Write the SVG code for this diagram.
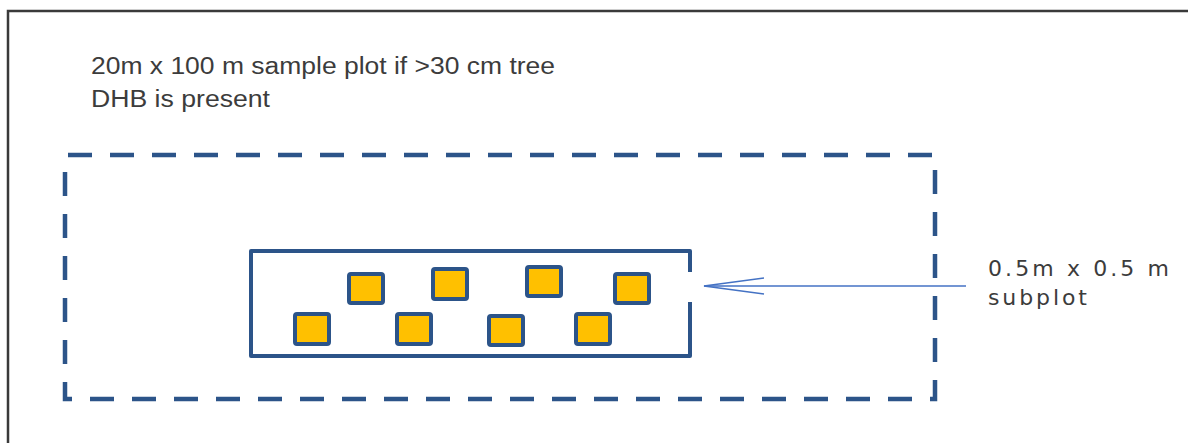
<svg xmlns="http://www.w3.org/2000/svg" width="1188" height="443" viewBox="0 0 1188 443">
  <style>
    .frame { fill: none; stroke: #3a3a3a; stroke-width: 2.5; }
    .plot { fill: none; stroke: #2c5489; stroke-width: 4.5; stroke-dasharray: 24 18; }
    .band { fill: none; stroke: #2c5489; stroke-width: 4; stroke-linejoin: round; }
    .sub { fill: #ffc000; stroke: #2c5489; stroke-width: 4; }
    .label { font-family: "Liberation Sans", Arial, sans-serif; font-size: 23px; fill: #3c3c3c; }
    .side { font-family: "DejaVu Sans", "Liberation Sans", sans-serif; font-size: 22px; fill: #3c3c3c; }
    .pointer { fill: none; stroke: #4472c4; stroke-width: 1.6; }
  </style>
  <defs>
    <marker id="openHead" markerUnits="userSpaceOnUse" markerWidth="64" markerHeight="24" refX="62" refY="12" orient="auto" viewBox="0 0 64 24">
      <path d="M2,4 L62,12 L2,20" fill="none" stroke="#4472c4" stroke-width="1.6"/>
    </marker>
  </defs>

  <rect width="1188" height="443" fill="#ffffff"/>

  <!-- page frame (open on the right and bottom) -->
  <path class="frame" d="M8,443 V11 H1188"/>

  <g id="title">
    <text class="label" x="91" y="74" textLength="464" lengthAdjust="spacingAndGlyphs">20m x 100 m sample plot if &gt;30 cm tree</text>
    <text class="label" x="91" y="107" textLength="179" lengthAdjust="spacingAndGlyphs">DHB is present</text>
  </g>

  <g id="sample-plot">
    <rect class="plot" x="65" y="155" width="870" height="244" stroke-dashoffset="-3"/>
  </g>

  <g id="subplot-band">
    <path class="band" d="M690,272 V251 H251 V356 H690 V302"/>
  </g>

  <g id="subplots">
    <rect id="sp1" class="sub" x="349" y="274" width="34" height="29" rx="2"/>
    <rect id="sp2" class="sub" x="433" y="269" width="34" height="30" rx="2"/>
    <rect id="sp3" class="sub" x="527" y="267" width="34" height="29" rx="2"/>
    <rect id="sp4" class="sub" x="615" y="274" width="34" height="29" rx="2"/>
    <rect id="sp5" class="sub" x="295" y="314" width="34" height="30" rx="2"/>
    <rect id="sp6" class="sub" x="397" y="314" width="34" height="30" rx="2"/>
    <rect id="sp7" class="sub" x="489" y="316" width="34" height="29" rx="2"/>
    <rect id="sp8" class="sub" x="576" y="314" width="34" height="30" rx="2"/>
  </g>

  <g id="subplot-label">
    <text class="side" x="988" y="276" textLength="181" lengthAdjust="spacing">0.5m x 0.5 m</text>
    <text class="side" x="988" y="305" textLength="99" lengthAdjust="spacing">subplot</text>
  </g>

  <g id="connectors">
    <line class="pointer" x1="966" y1="286" x2="704" y2="286" marker-end="url(#openHead)"/>
  </g>
</svg>
